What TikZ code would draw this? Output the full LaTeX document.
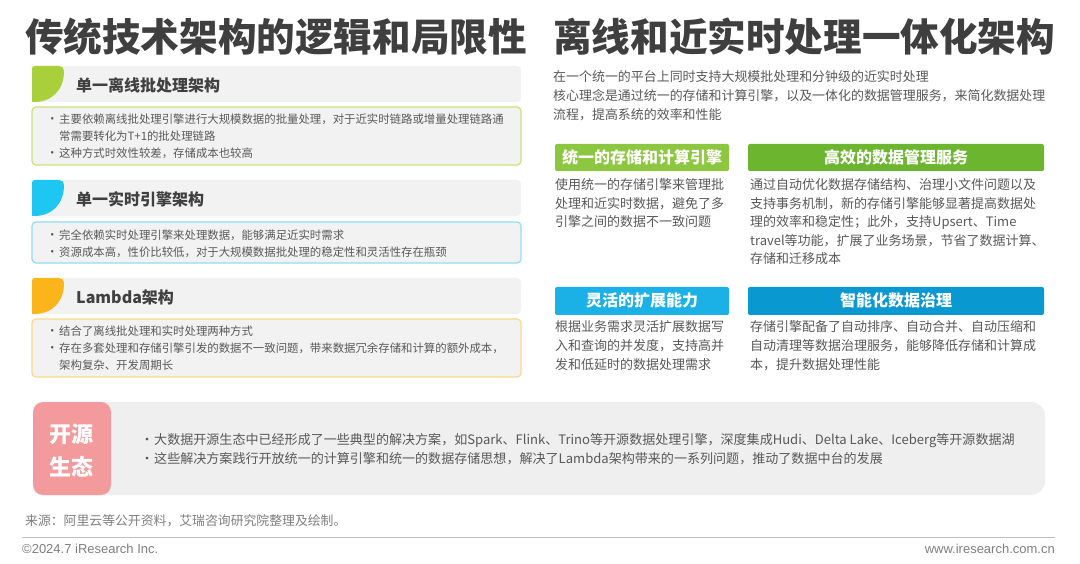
\documentclass[tikz,border=0pt]{standalone}
\usepackage{fontspec}
\setmainfont{Noto Sans CJK SC}
\newfontfamily\footfont{Liberation Sans}
\definecolor{titlec}{HTML}{3F3F3F}
\definecolor{headc}{HTML}{404040}
\definecolor{bodyc}{HTML}{595959}
\definecolor{footc}{HTML}{7F7F7F}
\definecolor{lgray}{HTML}{F2F2F2}
\definecolor{leafgreen}{HTML}{A9D03A}
\definecolor{bordgreen}{HTML}{C8E27E}
\definecolor{leafblue}{HTML}{1EC6F2}
\definecolor{bordblue}{HTML}{92DDF3}
\definecolor{leaforange}{HTML}{FBB41A}
\definecolor{bordorange}{HTML}{FAD98C}
\definecolor{gboxa}{HTML}{8DC63F}
\definecolor{gboxb}{HTML}{6CB52F}
\definecolor{bboxa}{HTML}{1BB0E6}
\definecolor{bboxb}{HTML}{0A98D1}
\definecolor{pinkc}{HTML}{F39B9C}
\definecolor{panelc}{HTML}{EFEFEF}
\definecolor{rulec}{HTML}{BFBFBF}
\begin{document}
\begin{tikzpicture}[x=1pt,y=-1pt,
  ttl/.style={anchor=base west, inner sep=0, font=\fontsize{38.6}{40}\selectfont\bfseries, text=titlec},
  hdr/.style={anchor=base west, inner sep=0, font=\fontsize{16}{18}\selectfont\bfseries, text=headc},
  bl/.style={anchor=base west, inner sep=0, font=\fontsize{11.4}{13}\selectfont, text=bodyc},
  dotl/.style={anchor=base west, inner sep=0, font=\fontsize{12.4}{13}\selectfont, text=bodyc},
  intro/.style={anchor=base west, inner sep=0, font=\fontsize{12.95}{15}\selectfont, text=bodyc},
  body/.style={anchor=base west, inner sep=0, font=\fontsize{13}{15}\selectfont, text=bodyc},
  lbl/.style={anchor=base, inner sep=0, font=\fontsize{16}{18}\selectfont\bfseries, text=white},
  bot/.style={anchor=base west, inner sep=0, font=\fontsize{13.05}{15}\selectfont, text=bodyc},
  eco/.style={anchor=base, inner sep=0, font=\fontsize{22}{24}\selectfont\bfseries, text=white},
  src/.style={anchor=base west, inner sep=0, font=\fontsize{12.85}{14}\selectfont, text=footc},
  foot/.style={inner sep=0, font=\footfont\fontsize{13}{15}\selectfont, text=footc},
  cbox/.style={line width=1.2pt, fill=lgray, rounded corners=4pt}
]
\useasboundingbox (0,0) rectangle (1080,564);
\fill[white] (0,0) rectangle (1080,564);

% titles
\node[ttl] (t1) at (25,52) {传统技术架构的逻辑和局限性};
\node[ttl] (t2) at (553,52) {离线和近实时处理一体化架构};

% ---------- section 1
\fill[lgray, rounded corners=4pt] (32,66) rectangle (521,102);
\fill[leafgreen] (32,102) -- (32,69) .. controls (32,67) and (33,66) .. (35,66) -- (59,66) .. controls (62,66) and (64,68) .. (64,71) .. controls (64,90) and (52,102) .. (34,102) -- cycle;
\node[hdr] (h1) at (76,92) {单一离线批处理架构};
\draw[cbox, draw=bordgreen] (32,107) rectangle (521,165);
\node[dotl] (d1a) at (45.8,123.5) {•};
\node[bl] (l1a) at (59,123.5) {主要依赖离线批处理引擎进行大规模数据的批量处理，对于近实时链路或增量处理链路通};
\node[bl] (l1b) at (59,140.5) {常需要转化为T+1的批处理链路};
\node[dotl] (d1c) at (45.8,158) {•};
\node[bl] (l1c) at (59,158) {这种方式时效性较差，存储成本也较高};

% ---------- section 2
\fill[lgray, rounded corners=4pt] (32,180) rectangle (521,216);
\fill[leafblue] (32,216) -- (32,183) .. controls (32,181) and (33,180) .. (35,180) -- (59,180) .. controls (62,180) and (64,182) .. (64,185) .. controls (64,204) and (52,216) .. (34,216) -- cycle;
\node[hdr] (h2) at (76,206) {单一实时引擎架构};
\draw[cbox, draw=bordblue] (32,222) rectangle (521,263);
\node[dotl] (d2a) at (45.8,239.5) {•};
\node[bl] (l2a) at (59,239.5) {完全依赖实时处理引擎来处理数据，能够满足近实时需求};
\node[dotl] (d2b) at (45.8,256.5) {•};
\node[bl] (l2b) at (59,256.5) {资源成本高，性价比较低，对于大规模数据批处理的稳定性和灵活性存在瓶颈};

% ---------- section 3
\fill[lgray, rounded corners=4pt] (32,278) rectangle (521,314);
\fill[leaforange] (32,314) -- (32,281) .. controls (32,279) and (33,278) .. (35,278) -- (59,278) .. controls (62,278) and (64,280) .. (64,283) .. controls (64,302) and (52,314) .. (34,314) -- cycle;
\node[hdr] (h3) at (76,304) {Lambda架构};
\draw[cbox, draw=bordorange] (32,319) rectangle (521,377);
\node[dotl] (d3a) at (45.8,335.5) {•};
\node[bl] (l3a) at (59,335.5) {结合了离线批处理和实时处理两种方式};
\node[dotl] (d3b) at (45.8,352.5) {•};
\node[bl] (l3b) at (59,352.5) {存在多套处理和存储引擎引发的数据不一致问题，带来数据冗余存储和计算的额外成本，};
\node[bl] (l3c) at (59,369.5) {架构复杂、开发周期长};

% ---------- right intro
\node[intro] (i1) at (553,82) {在一个统一的平台上同时支持大规模批处理和分钟级的近实时处理};
\node[intro] (i2) at (553,101) {核心理念是通过统一的存储和计算引擎，以及一体化的数据管理服务，来简化数据处理};
\node[intro] (i3) at (553,120) {流程，提高系统的效率和性能};

% ---------- green boxes
\fill[gboxa, rounded corners=2pt] (555,144) rectangle (729,171);
\node[lbl] (g1) at (642,163.5) {统一的存储和计算引擎};
\fill[gboxb, rounded corners=2pt] (748,144) rectangle (1044,171);
\node[lbl] (g2) at (896,163.5) {高效的数据管理服务};

\node[body] (p1a) at (555,190) {使用统一的存储引擎来管理批};
\node[body] (p1b) at (555,208.5) {处理和近实时数据，避免了多};
\node[body] (p1c) at (555,227) {引擎之间的数据不一致问题};

\node[body] (p2a) at (750,190) {通过自动优化数据存储结构、治理小文件问题以及};
\node[body] (p2b) at (750,208.5) {支持事务机制，新的存储引擎能够显著提高数据处};
\node[body] (p2c) at (750,227) {理的效率和稳定性；此外，支持Upsert、Time};
\node[body] (p2d) at (750,245.5) {travel等功能，扩展了业务场景，节省了数据计算、};
\node[body] (p2e) at (750,264) {存储和迁移成本};

% ---------- blue boxes
\fill[bboxa, rounded corners=2pt] (555,287) rectangle (729,315);
\node[lbl] (g3) at (642,307) {灵活的扩展能力};
\fill[bboxb, rounded corners=2pt] (748,287) rectangle (1044,315);
\node[lbl] (g4) at (896,307) {智能化数据治理};

\node[body] (p3a) at (555,332) {根据业务需求灵活扩展数据写};
\node[body] (p3b) at (555,351) {入和查询的并发度，支持高并};
\node[body] (p3c) at (555,370) {发和低延时的数据处理需求};

\node[body] (p4a) at (750,332) {存储引擎配备了自动排序、自动合并、自动压缩和};
\node[body] (p4b) at (750,351) {自动清理等数据治理服务，能够降低存储和计算成};
\node[body] (p4c) at (750,370) {本，提升数据处理性能};

% ---------- bottom panel
\fill[panelc, rounded corners=14pt] (33,402) rectangle (1045,495);
\fill[pinkc, rounded corners=10pt] (33,402) rectangle (111,495);
\node[eco] (e1) at (71.5,442) {开源};
\node[eco] (e2) at (71.5,475) {生态};
\node[bot] (db1) at (140.5,444.7) {•};
\node[bot] (bb1) at (154,444.7) {大数据开源生态中已经形成了一些典型的解决方案，如Spark、Flink、Trino等开源数据处理引擎，深度集成Hudi、Delta Lake、Iceberg等开源数据湖};
\node[bot] (db2) at (140.5,463.7) {•};
\node[bot] (bb2) at (154,463.7) {这些解决方案践行开放统一的计算引擎和统一的数据存储思想，解决了Lambda架构带来的一系列问题，推动了数据中台的发展};

% ---------- source and footer
\node[src] (s1) at (25,525.5) {来源：阿里云等公开资料，艾瑞咨询研究院整理及绘制。};
\draw[rulec, line width=1pt] (22,537) -- (1055,537);
\node[foot, anchor=base west] (f1) at (22,553.5) {©2024.7 iResearch Inc.};
\node[foot, anchor=base east] (f2) at (1055,553.5) {www.iresearch.com.cn};
\end{tikzpicture}
\end{document}
